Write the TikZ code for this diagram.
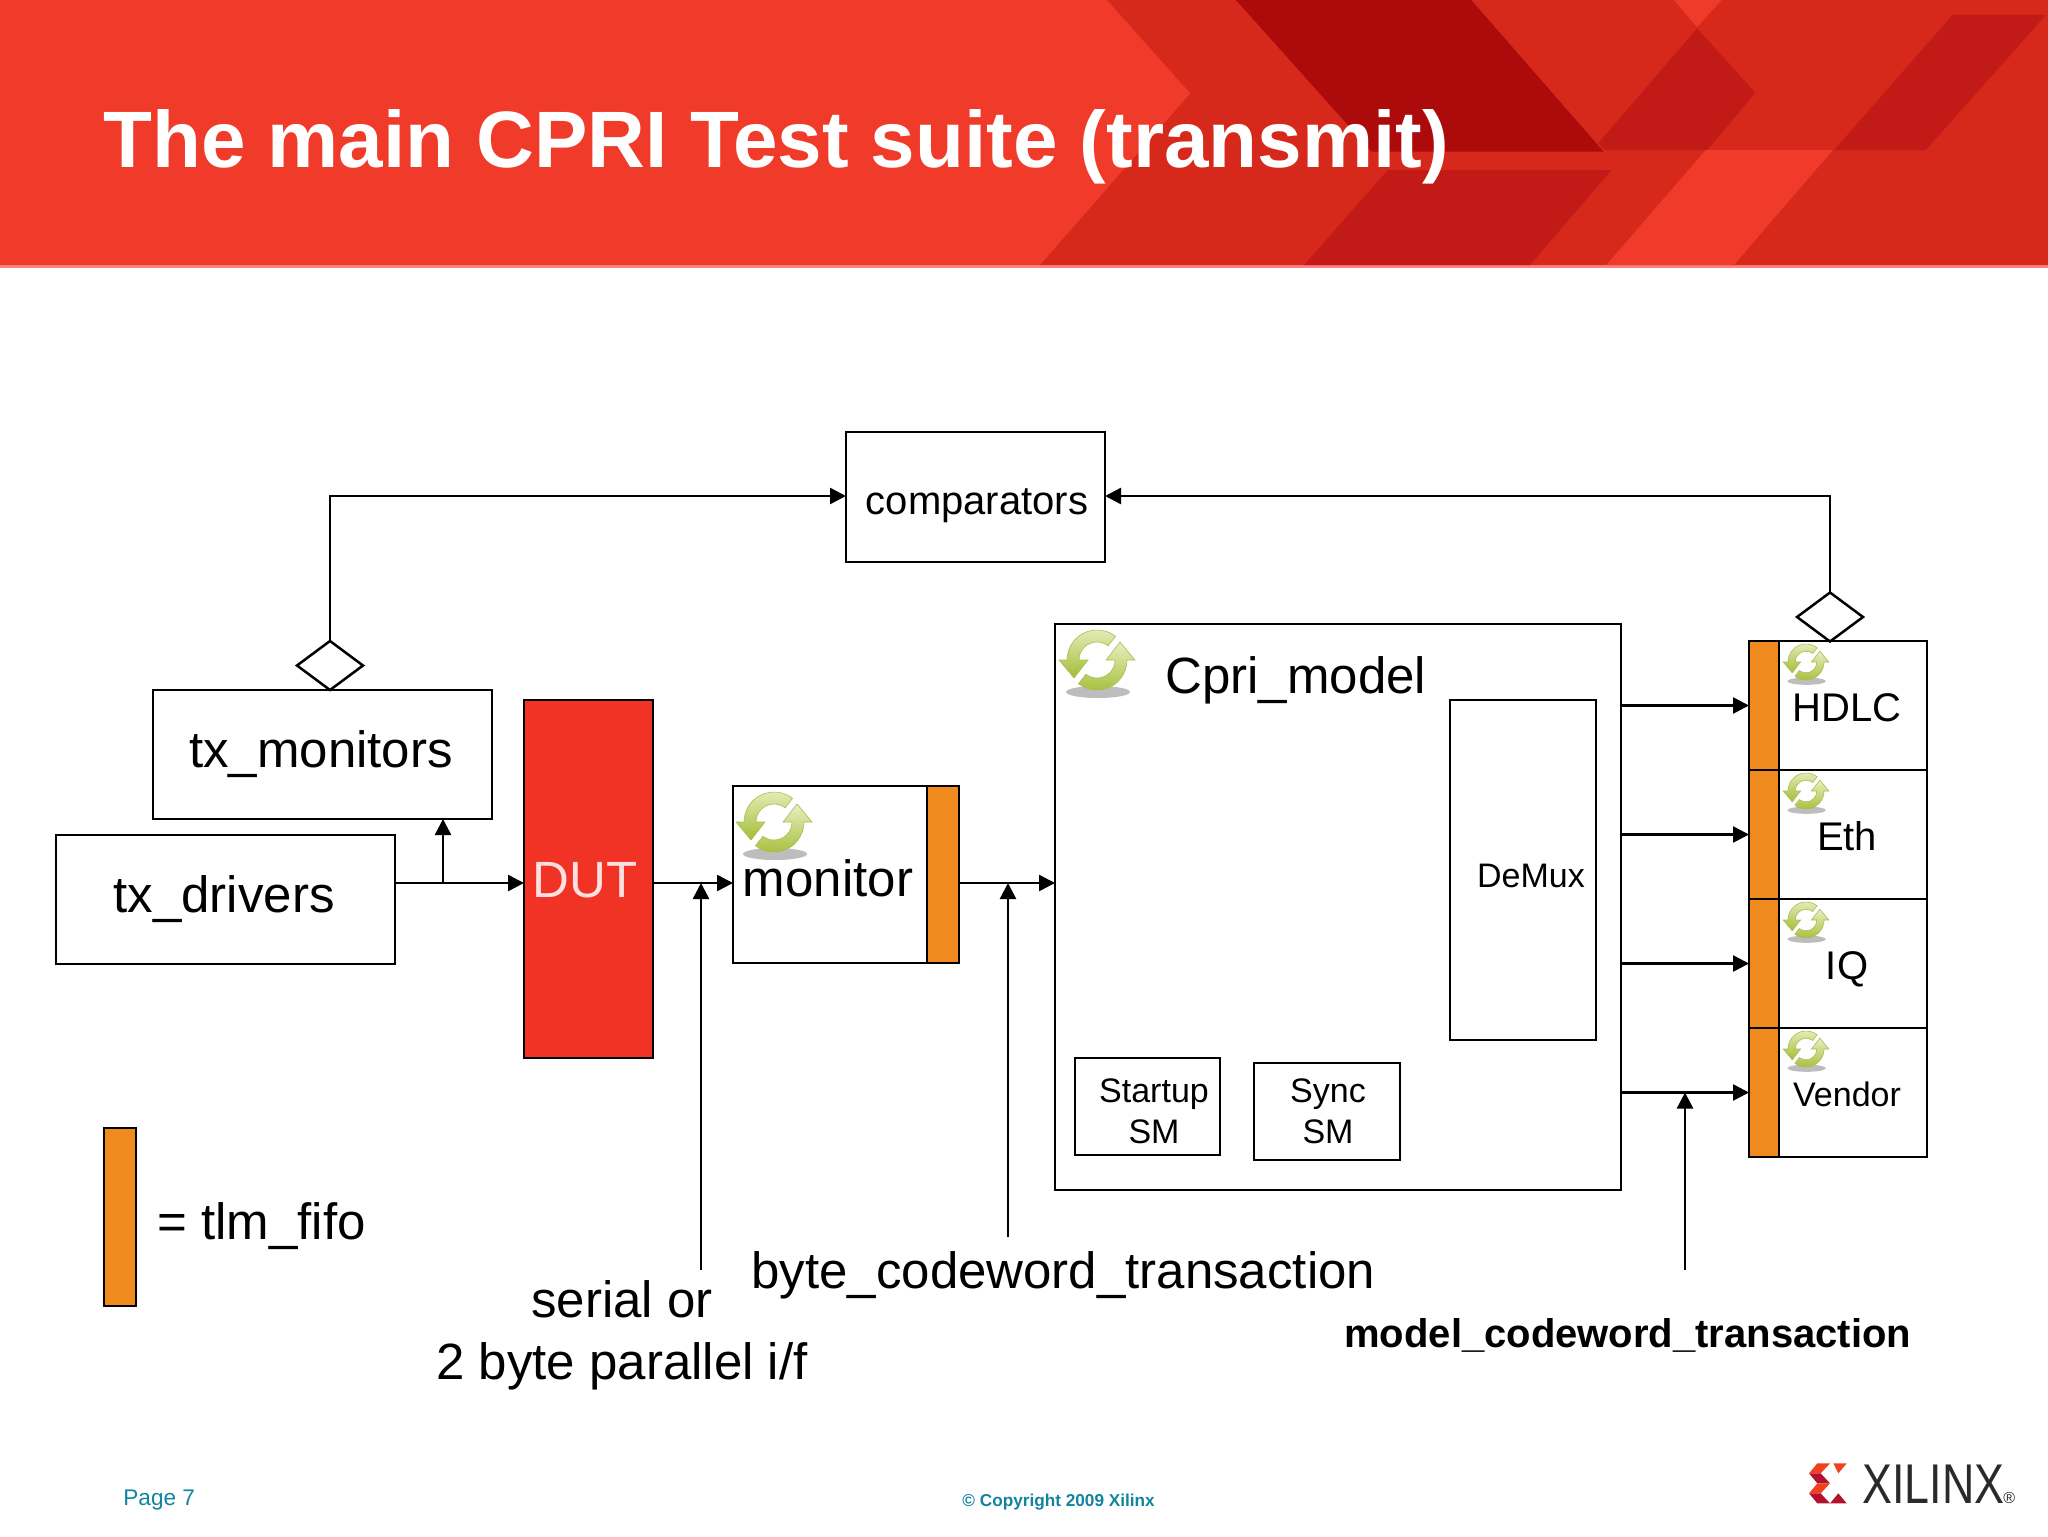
\documentclass[tikz,border=0pt]{standalone}
\usepackage{fontspec}
\setmainfont{Liberation Sans}
\usetikzlibrary{arrows.meta,shapes.geometric}
\definecolor{bannerlight}{HTML}{F03B2B}
\definecolor{bannermid}{HTML}{D6291B}
\definecolor{bannerdark}{HTML}{AD0A0C}
\definecolor{bannerdeep}{HTML}{C21A16}
\definecolor{fifo}{HTML}{EE8A1E}
\definecolor{dutred}{HTML}{F03324}
\definecolor{teal}{HTML}{1384A0}
\definecolor{logored}{HTML}{F0401F}
\definecolor{logocrim}{HTML}{B3122F}
\definecolor{logotext}{HTML}{2A2A2C}
\definecolor{icontop}{HTML}{E8EFC0}
\definecolor{iconlow}{HTML}{A3BD36}
\definecolor{iconedge}{HTML}{A8BE50}
\definecolor{iconshadow}{HTML}{BDBDBD}
\tikzset{
  box/.style={draw=black,line width=1.25pt,inner sep=0pt,outer sep=0pt,fill=white},
  fifobox/.style={box,fill=fifo},
  dia/.style={draw=black,line width=1.25pt,diamond,inner sep=0pt,outer sep=0pt,fill=white,minimum width=33pt,minimum height=24.5pt},
  wire/.style={line width=1.25pt,draw=black},
  arr/.style={wire,-{Triangle[length=8pt,width=8pt]}},
  lbl/.style={anchor=base,inner sep=0pt,text=black},
  big/.style={lbl,font=\fontsize{25.5}{30}\selectfont},
  mid/.style={lbl,font=\fontsize{20}{24}\selectfont},
  small/.style={lbl,font=\fontsize{17}{20}\selectfont},
  cycleicon/.pic={
    \begin{scope}[x=.5pt,y=.5pt]
      \fill[iconshadow] (1,-32) ellipse [x radius=32,y radius=6];
      \foreach \rr in {0,180}{
        \begin{scope}[rotate=\rr]
        \path[draw=iconedge,line width=.3pt,top color=icontop,bottom color=iconlow]
          (52:30) arc[start angle=52,end angle=180,radius=30] -- (-38,0) -- (-23,-18) -- (-9,0) -- (-18,0)
          arc[start angle=180,end angle=52,radius=18] -- cycle;
        \end{scope}
      }
    \end{scope}
  },
}
\begin{document}
\begin{tikzpicture}[x=.5pt,y=-.5pt]
\useasboundingbox (0,0) rectangle (2048,1536);
\fill[white] (0,0) rectangle (2048,1536);
% banner
\fill[bannerlight] (0,0) rectangle (2048,266);
\fill[red!50!white] (0,265) rectangle (2048,268);
\begin{scope}[shift={(1000,0)},x=.3342pt,y=-.16667pt]
  \fill[bannermid] (160,0) -- (285,280) -- (60,795) -- (1568,795) -- (1568,0) -- (1080,0) -- (1043,82) -- (1008,0) -- cycle;
  \fill[bannerdark] (353,0) -- (705,0) -- (903,455) -- (556,455) -- cycle;
  \fill[bannerdeep] (580,510) -- (915,510) -- (793,795) -- (455,795) -- cycle;
  \fill[bannerdeep] (1043,85) -- (1130,278) -- (1058,450) -- (905,450) -- (895,430) -- cycle;
  \fill[bannerdeep] (1425,45) -- (1565,45) -- (1385,450) -- (1248,450) -- cycle;
  \fill[bannerlight] (907,795) -- (1098,795) -- (1246,450) -- (1056,450) -- cycle;
\end{scope}
\node[anchor=base west,inner sep=0pt,text=white,font=\fontsize{40}{48}\bfseries\selectfont] (title) at (103,167) {The main CPRI Test suite (transmit)};
% guide coordinates for the wire levels
\coordinate (main) at (0,883);
\coordinate (top) at (0,496);
% boxes
\node[box,minimum width=129.5pt,minimum height=65pt] (comp) at (975.5,497) {};
\node[box,minimum width=169.5pt,minimum height=64.5pt] (txm) at (322.5,754.5) {};
\node[box,minimum width=169.5pt,minimum height=64.5pt] (txd) at (225.5,899.5) {};
\node[box,fill=dutred,minimum width=64.5pt,minimum height=179pt] (dut) at (588.5,879) {};
\node[box,minimum width=113pt,minimum height=88.5pt] (mon) at (846,874.5) {};
\node[fifobox,minimum width=16pt,minimum height=88.5pt] (monf) at (943,874.5) {};
\node[box,minimum width=283pt,minimum height=283pt] (cpri) at (1338,907) {};
\node[box,minimum width=73pt,minimum height=170pt] (demux) at (1523,870) {};
\node[box,minimum width=72.5pt,minimum height=48.5pt] (start) at (1147.5,1106.5) {};
\node[box,minimum width=73pt,minimum height=48.5pt] (sync) at (1327,1111.5) {};
\foreach \n/\y in {1/705.5,2/834.5,3/963.5,4/1092.5}{
  \node[box,minimum width=89pt,minimum height=64.5pt] (row\n) at (1838,\y) {};
  \node[fifobox,minimum width=15pt,minimum height=64.5pt] (fifo\n) at (1764,\y) {};
}
\node[fifobox,minimum width=16pt,minimum height=89pt] (legend) at (120,1217) {};
\node[dia] (dl) at (330,665.5) {};
\node[dia] (dr) at (1830,617) {};
% connectors
\draw[arr] (dl.north) |- (comp.west |- top);
\draw[arr] (dr.north) |- (comp.east |- top);
\draw[arr] (txd.east |- main) -- (dut.west |- main);
\coordinate (branch) at (443,883);
\draw[arr] (branch) -- (branch |- txm.south);
\draw[arr] (dut.east |- main) -- (mon.west |- main);
\coordinate (ifa) at (701,1270);
\draw[arr] (ifa) -- (ifa |- main);
\draw[arr] (monf.east |- main) -- (cpri.west |- main);
\coordinate (bca) at (1008,1237);
\draw[arr] (bca) -- (bca |- main);
\foreach \n in {1,2,3,4}{
  \draw[arr] (cpri.east |- fifo\n.west) -- (fifo\n.west);
}
\coordinate (mca) at (1685,1270);
\draw[arr] (mca) -- (mca |- fifo4.west);
% icons
\pic at (774,822) {cycleicon};
\pic at (1097,660) {cycleicon};
\foreach \y in {662,791,920,1049}{
  \pic[scale=.6] at (1806,\y) {cycleicon};
}
% labels
\node[mid] (tcomp) at (977,514) {comparators};
\node[big] (ttxm) at (321,767) {tx\_monitors};
\node[big] (ttxd) at (224,912) {tx\_drivers};
\node[big,text=red!12!white] (tdut) at (585,897) {DUT};
\node[big] (tmon) at (828,896) {monitor};
\node[big,anchor=base west] (tcpri) at (1165,693) {Cpri\_model};
\node[small] (tdem) at (1531,887) {DeMux};
\node[small] (tst1) at (1154,1102) {Startup};
\node[small] (tst2) at (1154,1143) {SM};
\node[small] (tsy1) at (1328,1102) {Sync};
\node[small] (tsy2) at (1328,1143) {SM};
\node[mid] (thd) at (1847,721) {HDLC};
\node[mid] (tet) at (1847,850) {Eth};
\node[mid] (tiq) at (1847,979) {IQ};
\node[small] (tve) at (1847,1106) {Vendor};
\node[big,anchor=base west] (tleg) at (157,1239) {= tlm\_fifo};
\node[big] (tser) at (622,1317) {serial or};
\node[big] (tpar) at (622,1379) {2 byte parallel i/f};
\node[big,anchor=base west] (tbyt) at (751,1288) {byte\_codeword\_transaction};
\node[lbl,anchor=base west,font=\fontsize{20}{24}\bfseries\selectfont] (tmod) at (1344,1347) {model\_codeword\_transaction};
\node[lbl,anchor=base west,text=teal,font=\fontsize{11.3}{14}\selectfont] (tpage) at (123,1505) {Page 7};
\node[lbl,anchor=base west,text=teal,font=\fontsize{8.6}{10}\bfseries\selectfont] (tcopy) at (962,1506) {© Copyright 2009 Xilinx};
% logo
\begin{scope}[shift={(1780,1440)},x=.16667pt,y=-.16667pt]
  \fill[logored] (112,70) -- (150,70) -- (122,100) -- (87,100) -- cycle;
  \fill[logocrim] (87,100) -- (122,100) -- (150,130) -- (112,130) -- cycle;
  \fill[logored] (112,130) -- (150,130) -- (122,160) -- (87,160) -- cycle;
  \fill[logocrim] (87,160) -- (122,160) -- (150,190) -- (112,190) -- cycle;
  \fill[logored] (160,70) -- (200,70) -- (175,100) -- cycle;
  \fill[logocrim] (175,160) -- (200,190) -- (150,190) -- cycle;
\end{scope}
\node[anchor=base west,inner sep=0pt,text=logotext,font=\fontsize{28}{32}\selectfont] (tx) at (1862,1503) {\scalebox{.8}[1]{XILINX}};
\node[anchor=base west,inner sep=0pt,text=logotext,font=\fontsize{8}{9}\selectfont] (tr) at (2003,1503) {®};
\end{tikzpicture}
\end{document}
